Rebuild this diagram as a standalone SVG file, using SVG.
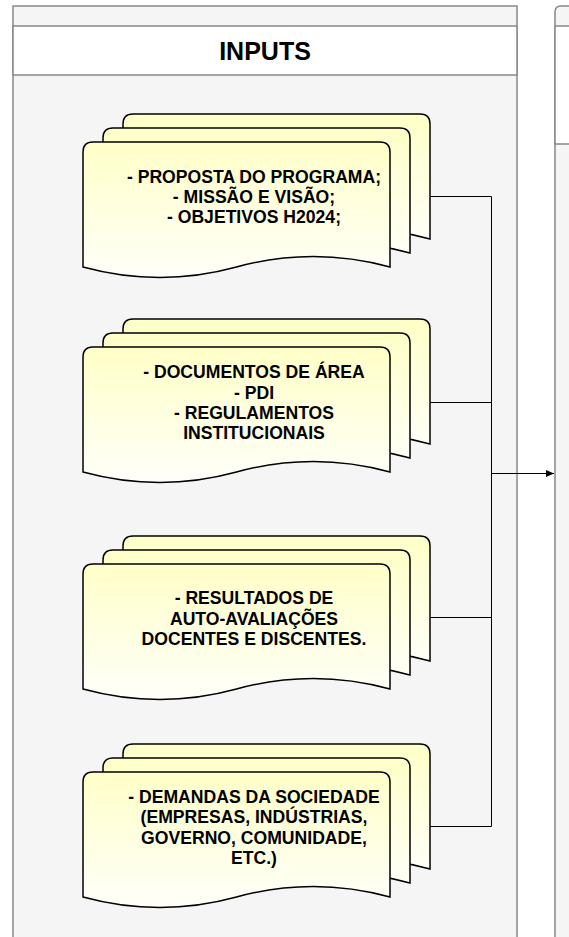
<svg xmlns="http://www.w3.org/2000/svg" xmlns:xlink="http://www.w3.org/1999/xlink" width="569" height="937" viewBox="0 0 569 937">
<style>
.bg{fill:#ffffff}
.lane{fill:#f5f5f5;stroke:#888888;stroke-width:1.5}
.band{fill:#ffffff;stroke:#888888;stroke-width:1.5}
.pg{fill:url(#yg);stroke:#000000;stroke-width:1.5}
.t{font-family:"Liberation Sans",Arial,sans-serif;font-weight:bold;font-size:17.6px;fill:#000000;text-anchor:middle}
.title{font-family:"Liberation Sans",Arial,sans-serif;font-weight:bold;font-size:25px;fill:#000000;text-anchor:middle}
.edge{fill:none;stroke:#000000;stroke-width:1}
</style>
<defs>
<linearGradient id="yg" x1="0" y1="0" x2="0" y2="1">
<stop offset="0" stop-color="#ffffc8"/>
<stop offset="1" stop-color="#fffffa"/>
</linearGradient>
<path id="page" d="M0,10 Q0,0 10,0 L297,0 Q307,0 307,10 L307,125 Q230.25,104 153.5,125 Q76.75,146 0,125 Z"/>
<g id="stack">
<use xlink:href="#page" href="#page" class="pg" x="40" y="-28"/>
<use xlink:href="#page" href="#page" class="pg" x="20" y="-14"/>
<use xlink:href="#page" href="#page" class="pg" x="0" y="0"/>
</g>
<marker id="arr" markerWidth="10" markerHeight="10" refX="8" refY="4" orient="auto" markerUnits="userSpaceOnUse">
<path d="M0,0.5 L8,4 L0,7.5 Z" fill="#000000"/>
</marker>
</defs>
<rect class="bg" x="0" y="0" width="569" height="937"/>
<g id="lane-inputs">
<rect class="lane" x="13" y="6" width="504" height="950"/>
<rect class="band" x="13" y="26" width="504" height="49"/>
<text class="title" x="265" y="59.5">INPUTS</text>
</g>
<g id="lane-right">
<path class="lane" d="M555,956 L555,12 Q555,6 561,6 L580,6 L580,956 Z"/>
<rect class="band" x="555" y="26" width="25" height="118"/>
</g>
<g id="connectors">
<path class="edge" d="M430,196.5 L491.5,196.5"/>
<path class="edge" d="M430,402.5 L491.5,402.5"/>
<path class="edge" d="M430,617.5 L491.5,617.5"/>
<path class="edge" d="M430,826.5 L491.5,826.5"/>
<path class="edge" d="M491.5,196.5 L491.5,826.5"/>
<path class="edge" d="M491.5,473.5 L554,473.5" marker-end="url(#arr)"/>
</g>
<g id="doc1">
<use xlink:href="#stack" href="#stack" x="83" y="142"/>
<text class="t" x="254" y="183">- PROPOSTA DO PROGRAMA;</text>
<text class="t" x="254" y="203">- MISSÃO E VISÃO;</text>
<text class="t" x="254" y="223">- OBJETIVOS H2024;</text>
</g>
<g id="doc2">
<use xlink:href="#stack" href="#stack" x="83" y="347"/>
<text class="t" x="254" y="378">- DOCUMENTOS DE ÁREA</text>
<text class="t" x="254" y="398.5">- PDI</text>
<text class="t" x="254" y="419">- REGULAMENTOS</text>
<text class="t" x="254" y="439">INSTITUCIONAIS</text>
</g>
<g id="doc3">
<use xlink:href="#stack" href="#stack" x="83" y="564"/>
<text class="t" x="254" y="604">- RESULTADOS DE</text>
<text class="t" x="254" y="624.5">AUTO-AVALIAÇÕES</text>
<text class="t" x="254" y="645">DOCENTES E DISCENTES.</text>
</g>
<g id="doc4">
<use xlink:href="#stack" href="#stack" x="83" y="772"/>
<text class="t" x="254" y="803">- DEMANDAS DA SOCIEDADE</text>
<text class="t" x="254" y="823">(EMPRESAS, INDÚSTRIAS,</text>
<text class="t" x="254" y="843.5">GOVERNO, COMUNIDADE,</text>
<text class="t" x="254" y="864">ETC.)</text>
</g>
</svg>
